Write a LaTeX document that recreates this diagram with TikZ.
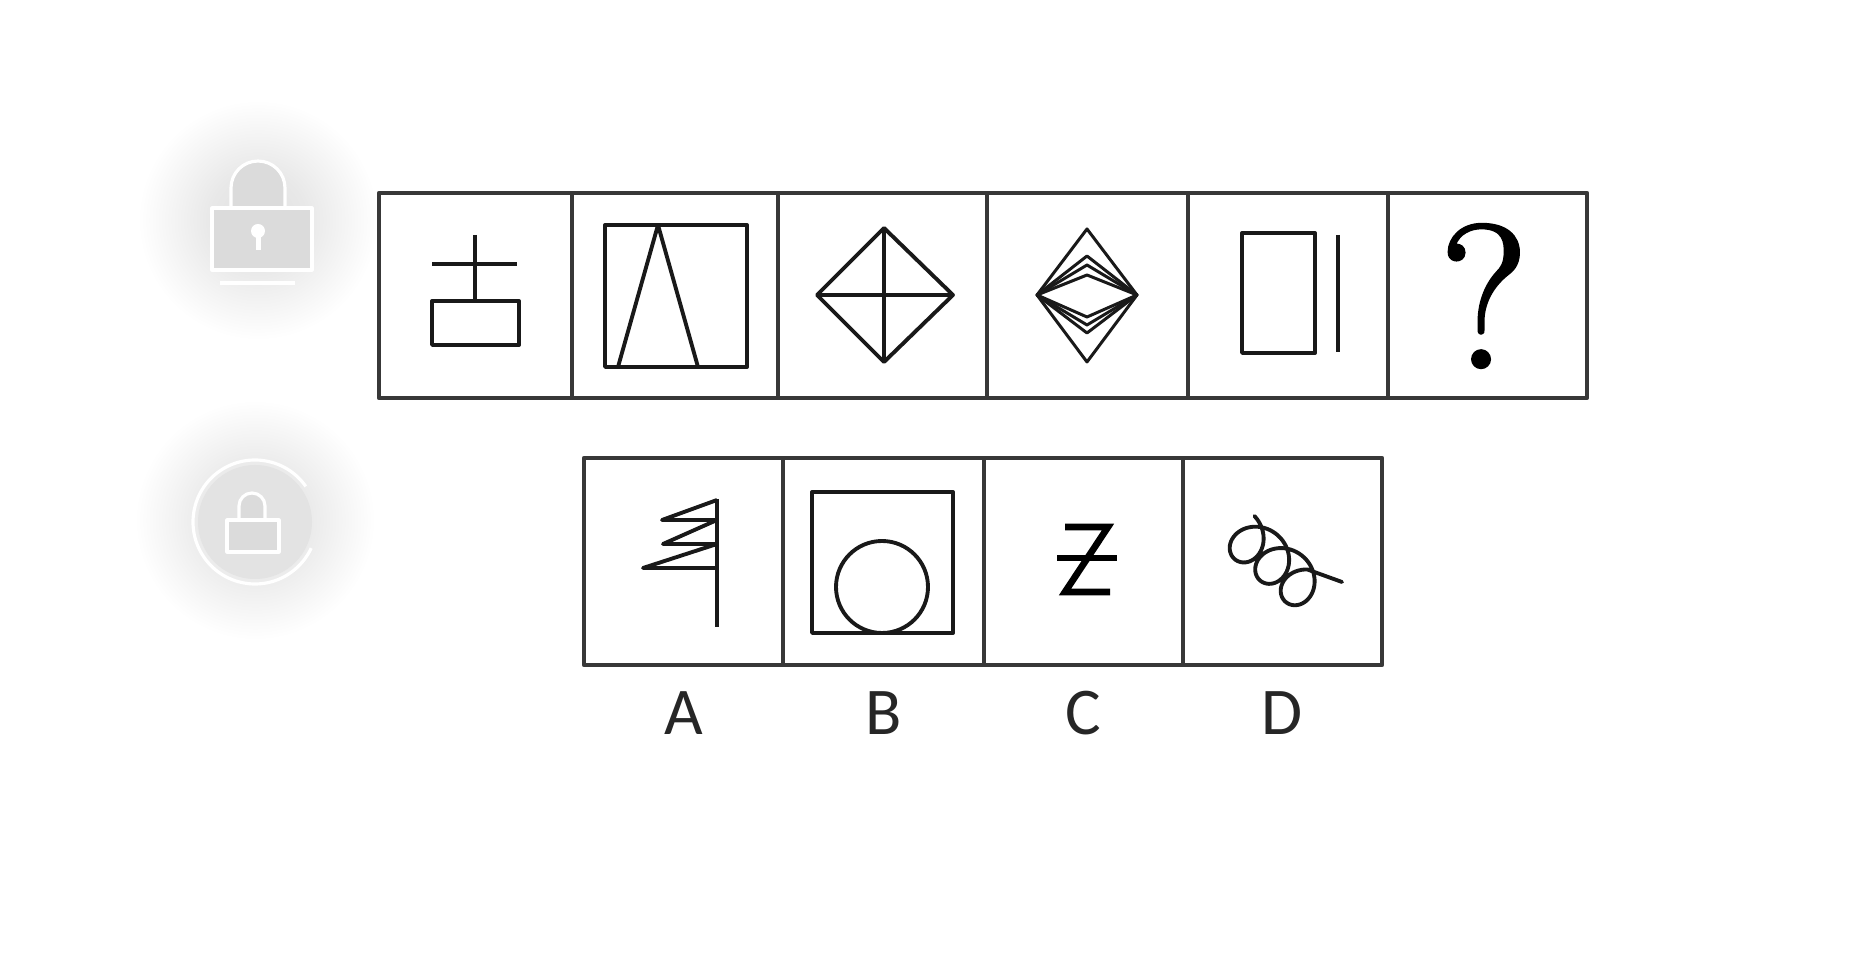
\documentclass[tikz,border=0pt]{standalone}
\usepackage{fontspec}
\newfontfamily\labfont{Carlito}
\newfontfamily\qmfont[FakeBold=1.6]{Latin Modern Roman}
\usetikzlibrary{positioning}
\pgfdeclareradialshading{haze}{\pgfpointorigin}{color(0bp)=(black!12); color(10bp)=(black!9); color(25bp)=(white); color(50bp)=(white)}

\begin{document}
\begin{tikzpicture}[line join=round,
  cell/.style={draw=black!78, line width=1.2pt},
  fig/.style={draw=black!90, line width=1.1pt},
  thin/.style={draw=black!90, line width=0.85pt},
  lab/.style={font=\labfont\fontsize{19}{22}\selectfont, text=black!85, inner sep=0pt, anchor=base},
  ico/.style={fill=black!14, draw=white, line width=0.9pt}]

\useasboundingbox (0,0) rectangle (18.52,-9.68);
\fill[white] (0,0) rectangle (18.52,-9.68);

% faint lock buttons on the left
\shade[shading=haze] (2.58,-2.20) circle (1.2);
\draw[ico] (2.31,-2.08) -- (2.31,-1.88) arc (180:0:0.27) -- (2.85,-2.08);
\draw[ico] (2.12,-2.08) rectangle (3.12,-2.70);
\fill[white] (2.58,-2.31) circle (0.07);
\fill[white] (2.555,-2.33) rectangle (2.605,-2.50);
\draw[white, line width=0.9pt] (2.20,-2.83) -- (2.95,-2.83);

\shade[shading=haze] (2.55,-5.20) circle (1.2);
\fill[black!11] (2.55,-5.22) circle (0.57);
\draw[white, line width=0.9pt] (2.55,-5.22) ++(35:0.62) arc (35:335:0.62);
\draw[ico] (2.39,-5.20) -- (2.39,-5.06) arc (180:0:0.13) -- (2.65,-5.20);
\draw[ico] (2.27,-5.20) rectangle (2.79,-5.52);

% top row: six cells, the last one left open
\foreach \l/\r in {3.79/5.72, 5.72/7.78, 7.78/9.87, 9.87/11.88, 11.88/13.88, 13.88/15.87}
  \draw[cell] (\l,-1.93) rectangle (\r,-3.98);

% 1: cross over a box
\draw[fig] (4.75,-2.35) -- (4.75,-3.01);
\draw[fig] (4.32,-2.64) -- (5.17,-2.64);
\draw[fig] (4.32,-3.01) rectangle (5.19,-3.45);

% 2: square with a peak
\draw[fig] (6.05,-2.25) rectangle (7.47,-3.67);
\draw[fig] (6.18,-3.67) -- (6.58,-2.25) -- (6.98,-3.67);

% 3: diamond with its diagonals
\draw[fig] (8.84,-2.28) -- (9.53,-2.95) -- (8.84,-3.62) -- (8.17,-2.95) -- cycle;
\draw[fig] (8.17,-2.95) -- (9.53,-2.95);
\draw[fig] (8.84,-2.28) -- (8.84,-3.62);

% 4: nested diamonds
\foreach \t/\b in {2.29/3.62, 2.56/3.33, 2.65/3.25, 2.75/3.17}
  \draw[thin] (10.37,-2.95) -- (10.87,-\t) -- (11.37,-2.95) -- (10.87,-\b) -- cycle;

% 5: box and bar
\draw[fig] (12.42,-2.33) rectangle (13.15,-3.53);
\draw[fig] (13.38,-2.35) -- (13.38,-3.52);

% 6: the open cell
\node[font=\qmfont\fontsize{58}{60}\selectfont, inner sep=0pt] (qm) at (14.84,-2.96) {?};

% bottom row: the four choices
\foreach \l/\r in {5.84/7.83, 7.83/9.84, 9.84/11.83, 11.83/13.82}
  \draw[cell] (\l,-4.58) rectangle (\r,-6.65);

% A: flag of zigzags
\draw[fig] (7.17,-4.99) -- (7.17,-6.27);
\draw[fig] (7.17,-5.00) -- (6.62,-5.20) -- (7.17,-5.20) -- (6.63,-5.44)
  -- (7.17,-5.44) -- (6.43,-5.68) -- (7.17,-5.68);

% B: circle sitting in a square
\draw[fig] (8.12,-4.92) rectangle (9.53,-6.33);
\draw[fig] (8.82,-5.87) circle (0.46);

% C: crossed Z
\draw[line width=1.9pt, line join=miter] (10.65,-5.27) -- (11.08,-5.27)
  -- (10.65,-5.92) -- (11.10,-5.92);
\draw[line width=1.9pt] (10.57,-5.58) -- (11.17,-5.58);

% D: coil
\coordinate (tailend) at (13.42,-5.82);
\begin{scope}[shift={(12.75,-5.63)}, rotate=-40, x=0.01cm, y=0.01cm]
  \draw[fig, line cap=round] plot[domain=-3.0:14.9, samples=160, smooth, variable=\t]
    ({5.3*\t - 23*sin(\t r) - 33.3}, {-23*cos(\t r)}) -- (tailend);
\end{scope}

% option letters
\foreach \c/\x in {A/6.835, B/8.835, C/10.835, D/12.825}
  \node[lab] (l\c) at (\x,-7.35) {\c};
\end{tikzpicture}
\end{document}
